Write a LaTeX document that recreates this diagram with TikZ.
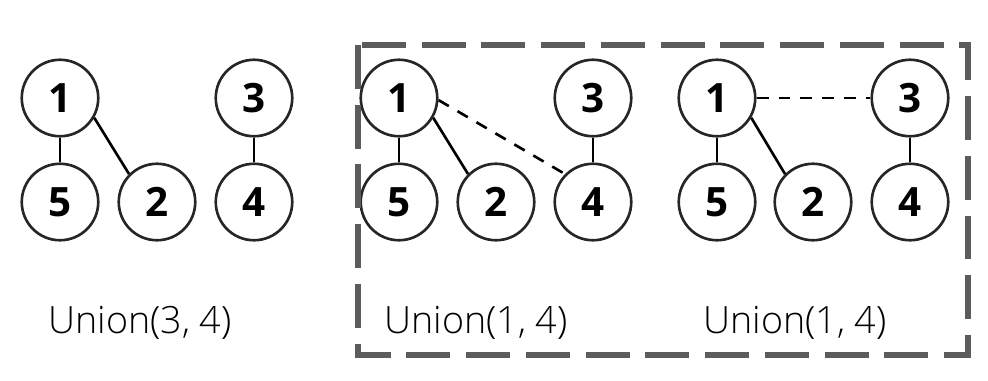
\documentclass[tikz,border=0pt]{standalone}
\usepackage{fontspec}
\setmainfont{Open Sans}
\IfFontExistsTF{Open Sans Light}{\newfontfamily\labelfont{Open Sans Light}}{\newfontfamily\labelfont{Open Sans}}
\usepackage{tikz}

\begin{document}
\begin{tikzpicture}[x=0.02cm,y=-0.02cm]
    \tikzset{vertex/.style = {shape=circle,draw=black!85,line width=1.5pt,minimum size=1.53cm,inner sep=0pt,font=\fontsize{23}{23}\selectfont\bfseries}}
    \tikzset{label2/.style = {shape=rectangle,draw=none,inner sep=0pt,anchor=base,font=\labelfont\fontsize{21.4}{24}\selectfont}}
    \tikzset{edge/.style = {-,line width=1.5pt,draw=black}}
    \tikzset{newedge/.style = {edge,dash pattern=on 6.8pt off 5.7pt}}
    \tikzset{group/.style = {draw=black!64,line width=2.9pt,dash pattern=on 25pt off 9pt}}

    \useasboundingbox (0,0) rectangle (988,380);

    % first forest
    \node[vertex] (a1) at (60,98) {1};
    \node[vertex] (a5) at (60,202) {5};
    \node[vertex] (a2) at (157,202) {2};
    \node[vertex] (a3) at (254,98) {3};
    \node[vertex] (a4) at (254,202) {4};
    \node[label2] (la) at (140,333) {Union(3, 4)};

    % second forest
    \node[vertex] (b1) at (399,98) {1};
    \node[vertex] (b5) at (399,202) {5};
    \node[vertex] (b2) at (496,202) {2};
    \node[vertex] (b3) at (593,98) {3};
    \node[vertex] (b4) at (593,202) {4};
    \node[label2] (lb) at (476,333) {Union(1, 4)};

    % third forest
    \node[vertex] (c1) at (717,98) {1};
    \node[vertex] (c5) at (717,202) {5};
    \node[vertex] (c2) at (813,202) {2};
    \node[vertex] (c3) at (910,98) {3};
    \node[vertex] (c4) at (910,202) {4};
    \node[label2] (lc) at (795,333) {Union(1, 4)};

    %edges
    \draw[edge] (a1) to (a5);
    \draw[edge] (a1.-30) to (a2.135);
    \draw[edge] (a3) to (a4);

    \draw[edge] (b1) to (b5);
    \draw[edge] (b1.-30) to (b2.135);
    \draw[edge] (b3) to (b4);
    \draw[newedge] (b1.-3) to (b4.135);

    \draw[edge] (c1) to (c5);
    \draw[edge] (c1.-30) to (c2.135);
    \draw[edge] (c3) to (c4);
    \draw[newedge] (c1) to (c3);

    % box
    \coordinate (tl) at (358,45);
    \coordinate (br) at (968,355);
    \draw[group] (tl) rectangle (br);
\end{tikzpicture}
\end{document}
